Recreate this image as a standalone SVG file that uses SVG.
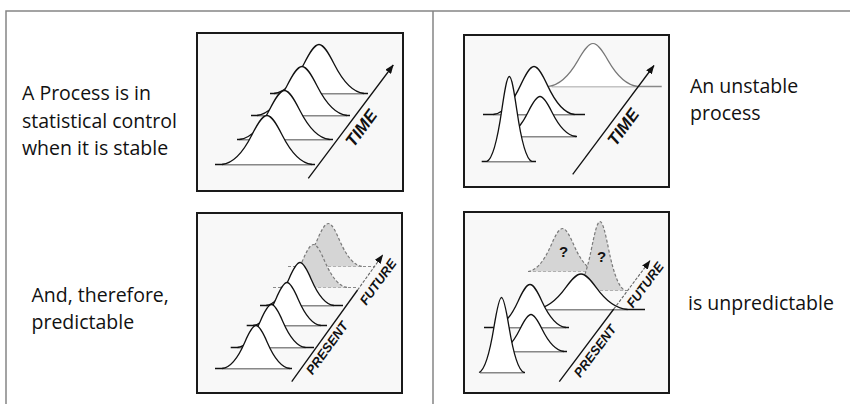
<svg xmlns="http://www.w3.org/2000/svg" width="850" height="404" viewBox="0 0 850 404">
<defs>
<style>
.frame{fill:none;stroke:#858585;stroke-width:1.5}
.box{fill:#f8f8f8;stroke:#1a1a1a;stroke-width:2}
.c{fill:#fff;stroke:#111;stroke-width:1.3}
.cg{fill:#d5d5d5;stroke:#7a7a7a;stroke-width:1.2;stroke-dasharray:3 2}
.cl{fill:#fff;stroke:#777;stroke-width:1.2}
.b{stroke:#111;stroke-width:1.5}
.bg{stroke:#8a8a8a;stroke-width:1.2;stroke-dasharray:3 2}
.bl{stroke:#888;stroke-width:1.3}
.ar{fill:none;stroke:#111;stroke-width:1.3}
.ard{fill:none;stroke:#666;stroke-width:1.1;stroke-dasharray:3 1.5}
.lbl{font-family:"Open Sans","Noto Sans",sans-serif;font-size:19.5px;fill:#111}
.ax{font-family:"Liberation Sans",Arial,sans-serif;font-weight:bold;font-style:italic;font-size:13px;fill:#111;text-anchor:middle}
.tm{font-size:17px}
.q{font-family:"Liberation Sans",Arial,sans-serif;font-weight:bold;font-size:15px;fill:#111;text-anchor:middle}
</style>
<path id="g" vector-effect="non-scaling-stroke" d="M-3,0 C-2.333,-0.022 -1.667,-0.202 -1,-0.607 C-0.667,-0.809 -0.333,-1 0,-1 C0.333,-1 0.667,-0.809 1,-0.607 C1.667,-0.202 2.333,-0.022 3,0"/>
<marker id="ah" viewBox="0 0 9 7" refX="8.5" refY="3.5" markerWidth="9" markerHeight="7" markerUnits="userSpaceOnUse" orient="auto">
<path d="M0,0 L9,3.5 L0,7 z" fill="#111"/>
</marker>
</defs>

<g id="frame">
<path class="frame" d="M6,404 V11 H850"/>
<line class="frame" x1="433" y1="11" x2="433" y2="404" stroke-width="1.2"/>
</g>

<g id="panel-stable">
<rect class="box" x="197" y="33" width="206" height="158"/>
<line class="b" x1="270" y1="93.5" x2="368" y2="93.5"/>
<use href="#g" class="c" transform="translate(319,93.5) scale(15,49)"/>
<line class="b" x1="251" y1="115.5" x2="350" y2="115.5"/>
<use href="#g" class="c" transform="translate(302,115.5) scale(15,49)"/>
<line class="b" x1="237" y1="139.5" x2="333" y2="139.5"/>
<use href="#g" class="c" transform="translate(284.5,139.5) scale(15,49)"/>
<line class="b" x1="215" y1="164.5" x2="315" y2="164.5"/>
<use href="#g" class="c" transform="translate(267,164.5) scale(15,49)"/>
<text class="ax tm" transform="translate(361,128) rotate(-53.5)" y="6">TIME</text>
</g>

<g id="panel-unstable">
<rect class="box" x="464" y="35" width="205" height="152"/>
<line class="bl" x1="551.7" y1="86.5" x2="661.7" y2="86.5"/>
<use href="#g" class="cl" transform="translate(593,86.5) scale(15,43)"/>
<line class="b" x1="483" y1="114.5" x2="585" y2="114.5"/>
<use href="#g" class="c" transform="translate(534,114.5) scale(13.5,48)"/>
<line class="b" x1="505" y1="136.5" x2="577" y2="136.5"/>
<use href="#g" class="c" transform="translate(540,136.5) scale(12,40)"/>
<line class="b" x1="481.7" y1="161.5" x2="536" y2="161.5"/>
<use href="#g" class="c" transform="translate(509.3,161.5) scale(7.5,85)"/>
<text class="ax tm" transform="translate(623,127) rotate(-53.5)" y="6">TIME</text>
</g>

<g id="panel-predictable">
<rect class="box" x="197" y="213" width="205" height="180"/>
<line class="bg" x1="288" y1="266.5" x2="374" y2="266.5"/>
<use href="#g" class="cg" transform="translate(328.3,266.5) scale(11.3,43)"/>
<line class="bg" x1="273" y1="287.5" x2="358" y2="287.5"/>
<use href="#g" class="cg" transform="translate(313.5,287.5) scale(11.3,43)"/>
<line class="b" x1="260" y1="305.5" x2="343" y2="305.5"/>
<use href="#g" class="c" transform="translate(300,305.5) scale(11.3,43)"/>
<line class="b" x1="246.7" y1="325.5" x2="327" y2="325.5"/>
<use href="#g" class="c" transform="translate(287,325.5) scale(11.3,43)"/>
<line class="b" x1="230.7" y1="347.5" x2="314" y2="347.5"/>
<use href="#g" class="c" transform="translate(271.5,347.5) scale(11.3,43)"/>
<line class="b" x1="215" y1="368.5" x2="292" y2="368.5"/>
<use href="#g" class="c" transform="translate(256,368.5) scale(11.3,43)"/>
<text class="ax" transform="translate(327,348) rotate(-54)" y="4.5">PRESENT</text>
<text class="ax" transform="translate(378,282) rotate(-54)" y="4.5">FUTURE</text>
</g>

<g id="panel-unpredictable">
<rect class="box" x="464" y="212" width="205" height="181"/>
<line class="bg" x1="528" y1="271.5" x2="590" y2="271.5"/>
<use href="#g" class="cg" transform="translate(562.5,271.5) scale(11.5,43)"/>
<line class="bg" x1="575" y1="290.5" x2="627" y2="290.5"/>
<use href="#g" class="cg" transform="translate(600,290.5) scale(8.5,69)"/>
<text class="q" x="563.5" y="257">?</text>
<text class="q" x="601.5" y="262">?</text>
<line class="b" x1="547" y1="309.5" x2="645" y2="309.5"/>
<use href="#g" class="c" transform="translate(581,309.5) scale(15.5,35.5)"/>
<line class="b" x1="484" y1="327.5" x2="569" y2="327.5"/>
<use href="#g" class="c" transform="translate(530,327.5) scale(12,43)"/>
<line class="b" x1="510" y1="351.5" x2="567" y2="351.5"/>
<use href="#g" class="c" transform="translate(531,351.5) scale(11,37)"/>
<line class="b" x1="480" y1="372.5" x2="525" y2="372.5"/>
<use href="#g" class="c" transform="translate(501.5,372.5) scale(7.5,75)"/>
<text class="ax" transform="translate(595,351) rotate(-53.5)" y="4.5">PRESENT</text>
<text class="ax" transform="translate(645,285) rotate(-53.5)" y="4.5">FUTURE</text>
</g>

<g id="connectors">
<line class="ar" x1="308.3" y1="178.3" x2="393.3" y2="65" marker-end="url(#ah)"/>
<line class="ar" x1="572.7" y1="174.3" x2="654" y2="65.5" marker-end="url(#ah)"/>
<line class="ar" x1="291.7" y1="381.7" x2="357.6" y2="290"/>
<line class="ard" x1="357.6" y1="290" x2="382.7" y2="255" marker-end="url(#ah)"/>
<line class="ar" x1="559.3" y1="381.7" x2="613.8" y2="309"/>
<line class="ard" x1="613.8" y1="309" x2="650" y2="260.7" marker-end="url(#ah)"/>
</g>

<g id="label-stable">
<text class="lbl" x="22" y="100">A Process is in</text>
<text class="lbl" x="22" y="127.5">statistical control</text>
<text class="lbl" x="22" y="155">when it is stable</text>
</g>
<g id="label-predictable">
<text class="lbl" x="31.5" y="301.5">And, therefore,</text>
<text class="lbl" x="31.5" y="328.5">predictable</text>
</g>
<g id="label-unstable">
<text class="lbl" x="690" y="93">An unstable</text>
<text class="lbl" x="690" y="119.5">process</text>
</g>
<g id="label-unpredictable">
<text class="lbl" x="688" y="310">is unpredictable</text>
</g>
</svg>
